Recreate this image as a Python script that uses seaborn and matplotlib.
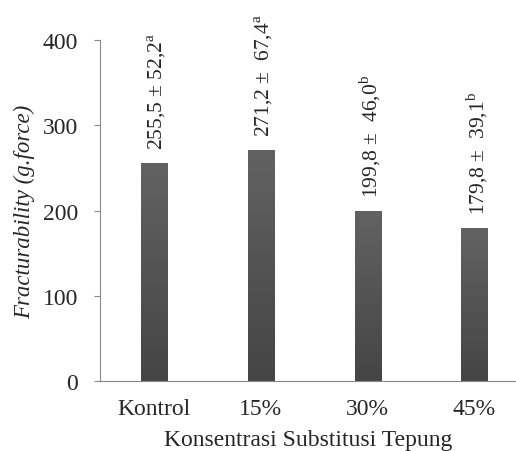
import matplotlib
matplotlib.use("Agg")
import matplotlib.pyplot as plt
import seaborn as sns
import pandas as pd
import numpy as np

categories = ["Kontrol", "15%", "30%", "45%"]
values = [255.5, 271.2, 199.8, 179.8]
errors = ["52,2", "67,4", "46,0", "39,1"]
means_txt = ["255,5", "271,2", "199,8", "179,8"]
letters = ["a", "a", "b", "b"]
spacers = [" ", "  ", "  ", "  "]

sns.set_style("white")
plt.rcParams["font.family"] = ["Liberation Serif", "DejaVu Serif"]
plt.rcParams["mathtext.fontset"] = "custom"
plt.rcParams["mathtext.rm"] = "Liberation Serif"

df = pd.DataFrame({"Konsentrasi": categories, "Fracturability": values})

fig = plt.figure(figsize=(5.16, 4.52), dpi=100)
ax = fig.add_axes([0.194, 0.155, 0.806, 0.754])
sns.barplot(data=df, x="Konsentrasi", y="Fracturability", color="#555555",
            saturation=1, width=0.245, ax=ax)

# soft vertical gradient on the bars, like the original
grad = np.linspace(0, 1, 100).reshape(-1, 1)
cmap = matplotlib.colors.LinearSegmentedColormap.from_list("g", ["#454545", "#626262"])
for p in ax.patches:
    x0, y0 = p.get_x(), p.get_y()
    im = ax.imshow(grad, cmap=cmap, origin="lower", aspect="auto",
                   extent=[x0, x0 + p.get_width(), y0, y0 + p.get_height()], zorder=p.get_zorder() + 0.1)
    im.set_clip_path(p)

for i, v in enumerate(values):
    label = means_txt[i] + " \u00b1" + spacers[i] + errors[i] + r"$^{\mathrm{" + letters[i] + "}}$"
    ax.annotate(label, (i, v), xytext=(2, 10), textcoords="offset points",
                rotation=90, ha="center", va="bottom", fontsize=15.5)

ax.set_ylim(0, 400)
ax.set_xlim(-0.506, 3.39)
ax.set_yticks([0, 100, 200, 300, 400])
ax.tick_params(axis="y", left=True, length=4, color="#898989", labelsize=17, pad=12)
ax.tick_params(axis="x", bottom=False, labelsize=17, pad=9)
for s in ["top", "right"]:
    ax.spines[s].set_visible(False)
for s in ["left", "bottom"]:
    ax.spines[s].set_color("#898989")
ax.set_xlabel("Konsentrasi Substitusi Tepung", fontsize=17, labelpad=7)
ax.set_ylabel("Fracturability (g.force)", fontsize=16.5, style="italic", labelpad=5)

fig.savefig("out.png", dpi=100)
